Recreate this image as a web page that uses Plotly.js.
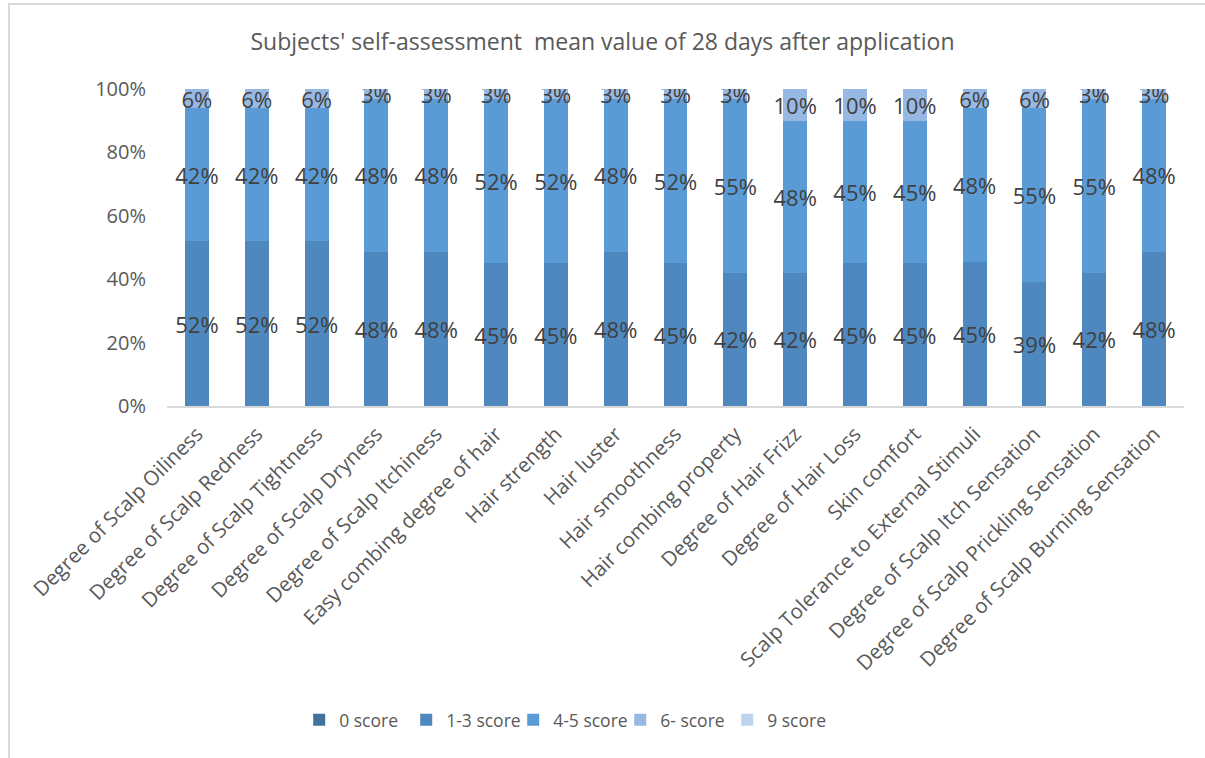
<!DOCTYPE html>
<html>
<head>
<meta charset="utf-8">
<script src="https://cdn.plot.ly/plotly-3.0.1.min.js"></script>
<style>
html,body{margin:0;padding:0;background:#fff;}
#wrap{position:relative;width:1205px;height:758px;overflow:hidden;}
#chart{position:absolute;left:0;top:0;width:1205px;height:758px;}
#frame{position:absolute;left:8px;top:3px;width:1300px;height:800px;border-left:2px solid #d9d9d9;border-top:2px solid #d9d9d9;pointer-events:none;}
</style>
</head>
<body>
<div id="wrap"><div id="chart"></div><div id="frame"></div></div>
<script>
const categories = [
  "Degree of Scalp Oiliness",
  "Degree of Scalp Redness",
  "Degree of Scalp Tightness",
  "Degree of Scalp Dryness",
  "Degree of Scalp Itchiness",
  "Easy combing degree of hair",
  "Hair strength",
  "Hair luster",
  "Hair smoothness",
  "Hair combing property",
  "Degree of Hair Frizz",
  "Degree of Hair Loss",
  "Skin comfort",
  "Scalp Tolerance to External Stimuli",
  "Degree of Scalp Itch Sensation",
  "Degree of Scalp Prickling Sensation",
  "Degree of Scalp Burning Sensation"
];
const seriesNames = ["0 score", "1-3 score", "4-5 score", "6- score", "9 score"];
const score0   = [0,0,0,0,0,0,0,0,0,0,0,0,0,0,0,0,0];
const score1_3 = [52,52,52,48,48,45,45,48,45,42,42,45,45,45,39,42,48];
const score4_5 = [42,42,42,48,48,52,52,48,52,55,48,45,45,48,55,55,48];
const score6   = [6,6,6,3,3,3,3,3,3,3,10,10,10,6,6,3,3];
const score9   = [0,0,0,0,0,0,0,0,0,0,0,0,0,0,0,0,0];
const yTicks = [0,20,40,60,80,100];

const colors = ["#41719C", "#4E88BE", "#5B9BD5", "#97B8E2", "#BDD4EE"];
const allSeries = [score0, score1_3, score4_5, score6, score9];

const traces = allSeries.map((vals, i) => {
  const showText = vals.some(v => v > 0);
  return {
    type: "bar",
    name: seriesNames[i],
    x: categories,
    y: vals,
    marker: {color: colors[i], line: {width: 0}},
    text: showText ? vals.map(v => v + "%") : undefined,
    textposition: showText ? "inside" : "none",
    insidetextanchor: "middle",
    textangle: 0,
    constraintext: "none",
    textfont: {family: "Open Sans, sans-serif", size: 22, color: "#404040"},
    hoverinfo: "name+y"
  };
});

const layout = {
  width: 1205,
  height: 758,
  barmode: "stack",
  barnorm: "percent",
  bargap: 0.6,
  paper_bgcolor: "#ffffff",
  plot_bgcolor: "#ffffff",
  margin: {l: 167, r: 21, t: 89, b: 352},
  title: {
    text: "Subjects' self-assessment  mean value of 28 days after application",
    font: {family: "Open Sans, sans-serif", size: 23, color: "#595959"},
    x: 0.5, xanchor: "center", y: 0.945, yanchor: "middle"
  },
  xaxis: {
    type: "category",
    tickangle: -45,
    tickfont: {family: "Open Sans, sans-serif", size: 20.5, color: "#595959"},
    showline: true, linecolor: "#d9d9d9", linewidth: 2,
    ticks: "outside", ticklen: 6, tickcolor: "rgba(0,0,0,0)",
    showgrid: false, automargin: false
  },
  yaxis: {
    range: [0, 100],
    tickvals: yTicks,
    ticktext: yTicks.map(v => v + "%"),
    tickfont: {family: "Open Sans, sans-serif", size: 20, color: "#595959"},
    showgrid: false, zeroline: false, showline: false,
    ticks: "outside", ticklen: 16, tickcolor: "rgba(0,0,0,0)",
    automargin: false
  },
  legend: {
    orientation: "h",
    x: 0.13, xanchor: "left",
    y: -0.99, yanchor: "middle",
    font: {family: "Open Sans, sans-serif", size: 17.5, color: "#595959"},
    itemwidth: 30,
    entrywidth: 62,
    traceorder: "normal"
  },
  showlegend: true
};

Plotly.newPlot("chart", traces, layout, {displayModeBar: false, staticPlot: true});
</script>
</body>
</html>
